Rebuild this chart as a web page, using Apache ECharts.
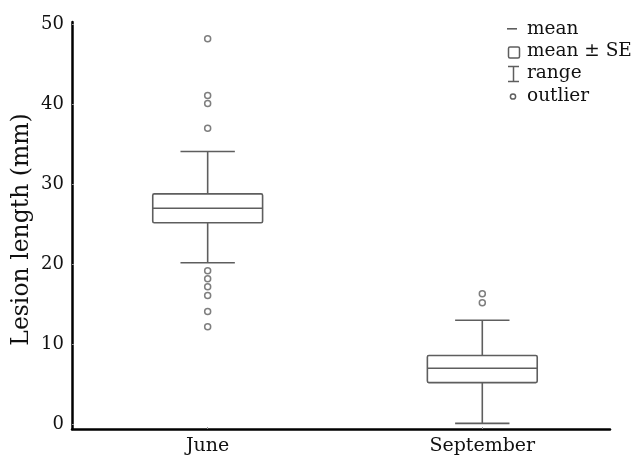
<!DOCTYPE html>
<html>
<head>
<meta charset="utf-8">
<script src="https://cdn.jsdelivr.net/npm/echarts@6/dist/echarts.min.js"></script>
<style>
html,body{margin:0;padding:0;background:#fff;}
#chart{width:634px;height:457px;}
</style>
</head>
<body>
<div id="chart"></div>
<script>
// ---- data ----
var categories = ['June', 'September'];
var rangeLow  = [20.2, 0.1];
var seLow     = [25.2, 5.2];
var means     = [27.0, 7.0];
var seHigh    = [28.8, 8.6];
var rangeHigh = [34.1, 13.0];
var outliersJune = [48.2, 41.1, 40.1, 37.0, 19.2, 18.2, 17.2, 16.1, 14.1, 12.2];
var outliersSeptember = [16.3, 15.2];
var yTicks = [0, 10, 20, 30, 40, 50];
var legendLabels = ['mean', 'mean ± SE', 'range', 'outlier'];

// ---- build series data ----
var boxData = categories.map(function (c, i) { return [i + 1, seLow[i], seHigh[i]]; });
var meanData = categories.map(function (c, i) { return [i + 1, means[i]]; });
var rangeData = categories.map(function (c, i) { return [i + 1, rangeLow[i], seLow[i], seHigh[i], rangeHigh[i]]; });
var outlierData = [];
outliersJune.forEach(function (v) { outlierData.push([1, v]); });
outliersSeptember.forEach(function (v) { outlierData.push([2, v]); });

var GREY = '#5e5e5e';
var FONT = 'DejaVu Serif';

// legend drawn as graphic elements
var legendRowsY = [27, 49, 71, 94];
var legendGraphic = [];
legendLabels.forEach(function (t, i) {
  legendGraphic.push({
    type: 'text', left: 527, top: legendRowsY[i] - 7,
    style: {text: t, font: '18.5px "' + FONT + '"', fill: '#111'}
  });
});
legendGraphic.push({type: 'rect', shape: {x: 507, y: legendRowsY[0] + 1, width: 10, height: 1.6}, style: {fill: GREY}});
legendGraphic.push({type: 'rect', shape: {x: 508.5, y: legendRowsY[1] - 2, width: 11, height: 11, r: 1.5}, style: {fill: 'none', stroke: GREY, lineWidth: 1.5}});
legendGraphic.push({type: 'group', children: [
  {type: 'line', shape: {x1: 508, y1: legendRowsY[2] - 4.5, x2: 519, y2: legendRowsY[2] - 4.5}, style: {stroke: GREY, lineWidth: 1.5}},
  {type: 'line', shape: {x1: 508, y1: legendRowsY[2] + 10.5, x2: 519, y2: legendRowsY[2] + 10.5}, style: {stroke: GREY, lineWidth: 1.5}},
  {type: 'line', shape: {x1: 513.5, y1: legendRowsY[2] - 4.5, x2: 513.5, y2: legendRowsY[2] + 10.5}, style: {stroke: GREY, lineWidth: 1.5}}
]});
legendGraphic.push({type: 'circle', shape: {cx: 513, cy: legendRowsY[3] + 2.5, r: 2.6}, style: {fill: '#fff', stroke: GREY, lineWidth: 1.5}});

var chart = echarts.init(document.getElementById('chart'), null, {renderer: 'canvas'});
chart.setOption({
  animation: false,
  backgroundColor: '#fff',
  grid: {left: 72, right: 24, top: 22, bottom: 28, outerBoundsMode: 'none', containLabel: false},
  graphic: legendGraphic,
  xAxis: {
    type: 'value',
    min: 0.506,
    max: 2.465,
    splitLine: {show: false},
    axisLine: {show: true, onZero: false, lineStyle: {color: '#000', width: 2.5}},
    axisTick: {show: true, inside: true, length: 2, customValues: [1, 2], lineStyle: {color: '#999'}},
    axisLabel: {
      customValues: [1, 2],
      formatter: function (v) { return categories[Math.round(v) - 1] || ''; },
      fontFamily: FONT, fontSize: 19, color: '#111', margin: 8
    }
  },
  yAxis: {
    type: 'value',
    min: -0.6,
    max: 50.3,
    name: 'Lesion length (mm)',
    nameLocation: 'middle',
    nameRotate: 90,
    nameGap: 38,
    nameMoveOverlap: false,
    nameTextStyle: {fontFamily: FONT, fontSize: 23.5, color: '#111', padding: [0, 8, 0, 0]},
    splitLine: {show: false},
    axisLine: {show: true, onZero: false, lineStyle: {color: '#000', width: 2.5}},
    axisTick: {show: true, inside: true, length: 2, customValues: yTicks, lineStyle: {color: '#999'}},
    axisLabel: {customValues: yTicks, fontFamily: FONT, fontSize: 18, color: '#111', margin: 8}
  },
  series: [
    {
      name: 'mean ± SE',
      type: 'custom',
      data: boxData,
      renderItem: function (params, api) {
        var x = api.value(0);
        var lo = api.coord([x, api.value(1)]);
        var hi = api.coord([x, api.value(2)]);
        var w = api.size([0.40, 0])[0];
        return {
          type: 'rect',
          shape: {x: lo[0] - w / 2, y: hi[1], width: w, height: lo[1] - hi[1], r: 1.5},
          style: {fill: 'none', stroke: GREY, lineWidth: 1.6}
        };
      }
    },
    {
      name: 'mean',
      type: 'custom',
      data: meanData,
      renderItem: function (params, api) {
        var x = api.value(0);
        var p = api.coord([x, api.value(1)]);
        var w = api.size([0.40, 0])[0];
        return {
          type: 'line',
          shape: {x1: p[0] - w / 2, y1: p[1], x2: p[0] + w / 2, y2: p[1]},
          style: {stroke: GREY, lineWidth: 1.6}
        };
      }
    },
    {
      name: 'range',
      type: 'custom',
      data: rangeData,
      renderItem: function (params, api) {
        var x = api.value(0);
        var pMin = api.coord([x, api.value(1)]);
        var pLo = api.coord([x, api.value(2)]);
        var pHi = api.coord([x, api.value(3)]);
        var pMax = api.coord([x, api.value(4)]);
        var cw = api.size([0.198, 0])[0];
        var st = {stroke: GREY, lineWidth: 1.6};
        return {
          type: 'group',
          children: [
            {type: 'line', shape: {x1: pMin[0], y1: pMin[1], x2: pLo[0], y2: pLo[1]}, style: st},
            {type: 'line', shape: {x1: pHi[0], y1: pHi[1], x2: pMax[0], y2: pMax[1]}, style: st},
            {type: 'line', shape: {x1: pMin[0] - cw / 2, y1: pMin[1], x2: pMin[0] + cw / 2, y2: pMin[1]}, style: st},
            {type: 'line', shape: {x1: pMax[0] - cw / 2, y1: pMax[1], x2: pMax[0] + cw / 2, y2: pMax[1]}, style: st}
          ]
        };
      }
    },
    {
      name: 'outlier',
      type: 'scatter',
      data: outlierData,
      symbol: 'circle',
      symbolSize: 6,
      itemStyle: {color: '#fff', borderColor: GREY, borderWidth: 1.5}
    }
  ]
});
</script>
</body>
</html>
